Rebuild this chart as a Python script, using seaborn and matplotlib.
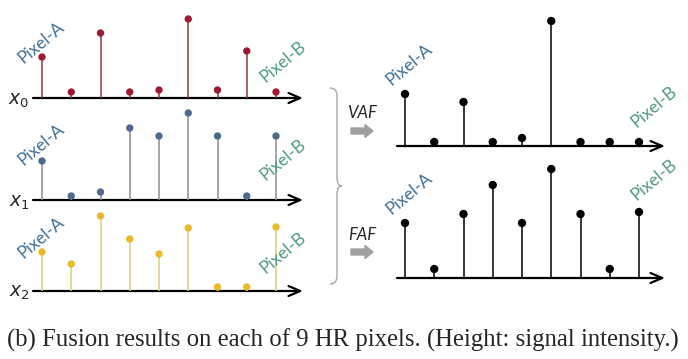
import numpy as np
import matplotlib
matplotlib.use("Agg")
import matplotlib.pyplot as plt
from matplotlib.path import Path
from matplotlib.patches import PathPatch, FancyArrow
import seaborn as sns

# signal heights (pixel units above each axis) for the 9 HR pixels
pixels = np.arange(9)
x0_vals = [41, 6, 65, 6, 8, 79, 8, 47, 6]
x1_vals = [39, 4, 8, 72, 64, 87, 64, 4, 64]
x2_vals = [39, 27, 75, 52, 37, 63, 4, 4, 64]
vaf_vals = [52, 4, 44, 4, 8, 125, 4, 4, 4]
faf_vals = [55, 9, 64, 93, 55, 109, 64, 9, 66]

caption = "(b) Fusion results on each of 9 HR pixels. (Height: signal intensity.)"

sns.set_theme(style="white")
plt.rcParams["font.family"] = ["Lato", "DejaVu Sans"]
plt.rcParams["mathtext.fontset"] = "dejavusans"

W, H = 688, 359
fig = plt.figure(figsize=(W / 100, H / 100), dpi=100)

STEP = 29.25  # px between stems


def fx(px):
    return px / W


def fy(py):
    # py measured from the top of the image
    return 1 - py / H


def panel(left, first_stem, width, axis_y, top, vals, dot_color, stem_color,
          ax_start, ax_end, dot_size=28):
    ax = fig.add_axes([fx(left), fy(axis_y + 8), fx(width), (axis_y + 8 - top) / H])
    ax.set_xlim((left - first_stem) / STEP, (left + width - first_stem) / STEP)
    ax.set_ylim(-8, axis_y - top)
    ax.vlines(pixels, 0, vals, color=stem_color, lw=1.1, zorder=2)
    sns.scatterplot(x=pixels, y=vals, ax=ax, color=dot_color, s=dot_size,
                    edgecolor="none", zorder=3, legend=False)
    ax.annotate("", xy=((ax_end - first_stem) / STEP, 0),
                xytext=((ax_start - first_stem) / STEP, 0),
                arrowprops=dict(arrowstyle="->,head_length=0.7,head_width=0.3",
                                lw=1.6, color="black", shrinkA=0, shrinkB=0),
                zorder=1)
    ax.set_axis_off()
    return ax


panel(30, 42, 280, 98, 5, x0_vals, "#9e1a30", "#8c3a3a", 33, 303)
panel(30, 42, 280, 200, 108, x1_vals, "#4c6b8e", "#8e8e8e", 33, 303)
panel(30, 42, 280, 291, 205, x2_vals, "#e9b92a", "#d8cf7a", 33, 303)
panel(390, 405, 290, 146, 10, vaf_vals, "black", "black", 397, 665, dot_size=36)
panel(390, 405, 290, 278, 160, faf_vals, "black", "black", 397, 665, dot_size=36)

# axis names
for name, yy in [("$x_0$", 101), ("$x_1$", 203), ("$x_2$", 293)]:
    fig.text(fx(19), fy(yy), name, fontsize=13.5, ha="center", va="center")

# pixel tags
col_a, col_b = "#3f6f94", "#4e9a82"
tags = [((41, 43), (283, 62)), ((41, 145), (283, 160)), ((41, 238), (283, 253)),
        ((409, 65), (654, 107)), ((409, 194), (654, 180))]
for (ax_, ay_), (bx_, by_) in tags:
    fig.text(fx(ax_), fy(ay_), "Pixel-A", color=col_a, fontsize=12.5, rotation=40,
             ha="center", va="center", rotation_mode="anchor")
    fig.text(fx(bx_), fy(by_), "Pixel-B", color=col_b, fontsize=12.5, rotation=40,
             ha="center", va="center", rotation_mode="anchor")

# fusion labels with grey arrows
for label, ly, ay in [("VAF", 113, 131), ("FAF", 235, 252)]:
    fig.text(fx(362), fy(ly), label, fontsize=12, style="italic",
             ha="center", va="center")
    fig.patches.append(FancyArrow(fx(351), fy(ay), fx(14), 0, width=6 / H,
                                  head_width=13 / H, head_length=fx(8),
                                  length_includes_head=False, color="#a0a0a0",
                                  transform=fig.transFigure, figure=fig))

# curly brace
pts = [(330, 88), (337, 88), (337, 96), (337, 178), (337, 186), (342, 186),
       (337, 186), (337, 194), (337, 276), (337, 284), (330, 284)]
codes = [Path.MOVETO, Path.CURVE3, Path.CURVE3, Path.LINETO, Path.CURVE3, Path.CURVE3,
         Path.CURVE3, Path.CURVE3, Path.LINETO, Path.CURVE3, Path.CURVE3]
brace = Path([(fx(x), fy(y)) for x, y in pts], codes)
fig.patches.append(PathPatch(brace, fill=False, edgecolor="#a8a8a8", lw=1.0,
                             transform=fig.transFigure, figure=fig))

fig.text(fx(7), fy(340), caption, fontsize=17.8, family="Liberation Serif",
         ha="left", va="center")

fig.savefig("out.png", dpi=100)
